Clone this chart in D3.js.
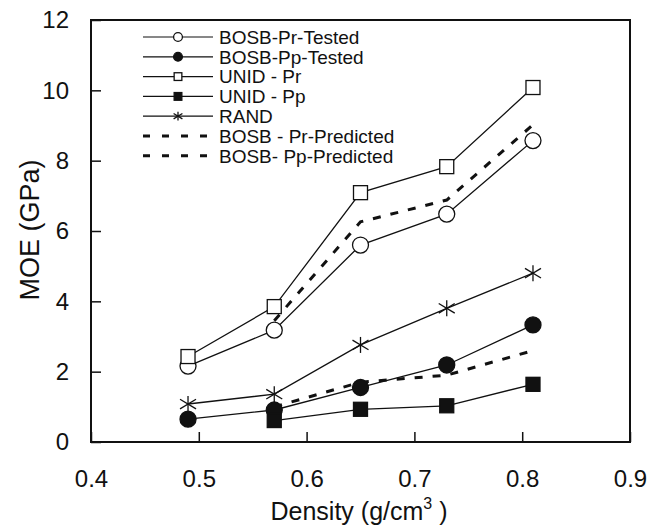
<!DOCTYPE html>
<html><head><meta charset="utf-8">
<script src="https://cdn.jsdelivr.net/npm/d3@7"></script>
<style>body{margin:0;background:#fff}svg{display:block}text{font-family:"Liberation Sans",Arial,sans-serif;fill:#111}</style>
</head><body>
<svg id="c" width="650" height="527"></svg>
<script>
const density = [0.49, 0.57, 0.65, 0.73, 0.81];
const bosbPrTested = [2.16, 3.18, 5.60, 6.48, 8.57];
const bosbPpTested = [0.65, 0.91, 1.55, 2.19, 3.33];
const unidPr = [2.43, 3.85, 7.09, 7.83, 10.08];
const unidPp = [null, 0.61, 0.93, 1.03, 1.64];
const rand = [1.08, 1.36, 2.76, 3.80, 4.80];
const bosbPrPredicted = [null, 3.45, 6.26, 6.88, 9.02];
const bosbPpPredicted = [null, 1.00, 1.70, 1.90, 2.60];
const xTicks = [0.4, 0.5, 0.6, 0.7, 0.8, 0.9];
const yTicks = [0, 2, 4, 6, 8, 10, 12];

const series = [
  {name:"BOSB-Pr-Tested", vals:bosbPrTested, marker:"circleOpen"},
  {name:"BOSB-Pp-Tested", vals:bosbPpTested, marker:"circleFilled"},
  {name:"UNID - Pr", vals:unidPr, marker:"squareOpen"},
  {name:"UNID - Pp", vals:unidPp, marker:"squareFilled"},
  {name:"RAND", vals:rand, marker:"star"},
  {name:"BOSB - Pr-Predicted", vals:bosbPrPredicted, marker:"dash"},
  {name:"BOSB- Pp-Predicted", vals:bosbPpPredicted, marker:"dash"}
];

const svg = d3.select("#c");
const L=91, R=630, T=20, B=442;
const x = d3.scaleLinear().domain([0.4,0.9]).range([L,R]);
const y = d3.scaleLinear().domain([0,12]).range([B,T]);

svg.append("rect").attr("x",L).attr("y",T).attr("width",R-L).attr("height",B-T)
  .attr("fill","none").attr("stroke","#111").attr("stroke-width",2);

const xa = svg.append("g").attr("transform",`translate(0,${B})`)
  .call(d3.axisBottom(x).tickValues(xTicks).tickFormat(d3.format(".1f")).tickSizeInner(-10).tickSizeOuter(0).tickPadding(28));
const ya = svg.append("g").attr("transform",`translate(${L},0)`)
  .call(d3.axisLeft(y).tickValues(yTicks).tickFormat(d3.format("d")).tickSizeInner(-10).tickSizeOuter(0).tickPadding(22));
[xa,ya].forEach(a=>{
  a.select(".domain").remove();
  a.selectAll(".tick line").attr("stroke","#111").attr("stroke-width",1.5);
  a.selectAll(".tick text").attr("font-size",24).attr("fill","#111");
});

function drawMarker(g, type, cx, cy, big){
  const s = big ? 1 : 0.55;
  if(type==="circleOpen"||type==="circleFilled"){
    g.append("circle").attr("cx",cx).attr("cy",cy).attr("r",8*s)
     .attr("fill", type==="circleOpen"?"#fff":"#111").attr("stroke","#111").attr("stroke-width",1.3);
  } else if(type==="squareOpen"||type==="squareFilled"){
    const h=7*s;
    g.append("rect").attr("x",cx-h).attr("y",cy-h).attr("width",2*h).attr("height",2*h)
     .attr("fill", type==="squareOpen"?"#fff":"#111").attr("stroke","#111").attr("stroke-width",1.3);
  } else if(type==="star"){
    const h=8*s;
    const p = g.append("g").attr("stroke","#111").attr("stroke-width",1.3);
    p.append("line").attr("x1",cx).attr("x2",cx).attr("y1",cy-h).attr("y2",cy+h);
    p.append("line").attr("x1",cx-h).attr("x2",cx+h).attr("y1",cy-h*0.6).attr("y2",cy+h*0.6);
    p.append("line").attr("x1",cx-h).attr("x2",cx+h).attr("y1",cy+h*0.6).attr("y2",cy-h*0.6);
  }
}

const line = d3.line().defined(d=>d[1]!=null).x(d=>x(d[0])).y(d=>y(d[1]));
const plot = svg.append("g");
series.filter(s=>s.marker==="dash").forEach(s=>{
  plot.append("path").datum(density.map((d,i)=>[d,s.vals[i]]))
    .attr("d",line).attr("fill","none").attr("stroke","#111").attr("stroke-width",3).attr("stroke-dasharray","8,10");
});
series.filter(s=>s.marker!=="dash").forEach(s=>{
  plot.append("path").datum(density.map((d,i)=>[d,s.vals[i]]))
    .attr("d",line).attr("fill","none").attr("stroke","#111").attr("stroke-width",1.3);
});
series.filter(s=>s.marker!=="dash").forEach(s=>{
  density.forEach((d,i)=>{ if(s.vals[i]!=null) drawMarker(plot,s.marker,x(d),y(s.vals[i]),true); });
});

const lg = svg.append("g");
series.forEach((s,i)=>{
  const yy = 37 + i*19.8;
  if(s.marker==="dash"){
    lg.append("line").attr("x1",143).attr("x2",213).attr("y1",yy).attr("y2",yy)
      .attr("stroke","#111").attr("stroke-width",3).attr("stroke-dasharray","7,12");
  } else {
    lg.append("line").attr("x1",143).attr("x2",213).attr("y1",yy).attr("y2",yy)
      .attr("stroke","#111").attr("stroke-width",1.2);
    drawMarker(lg,s.marker,178,yy,false);
  }
  lg.append("text").attr("x",219).attr("y",yy).attr("dy","0.36em").attr("font-size",19).text(s.name);
});

const xt = svg.append("text").attr("x",359).attr("y",520).attr("text-anchor","middle").attr("font-size",25);
xt.append("tspan").text("Density (g/cm");
xt.append("tspan").attr("dy",-11).attr("font-size",16).text("3");
xt.append("tspan").attr("dy",11).text(" )");
svg.append("text").attr("transform","translate(39,230) rotate(-90)").attr("text-anchor","middle")
  .attr("font-size",27).text("MOE (GPa)");
</script>
</body></html>
